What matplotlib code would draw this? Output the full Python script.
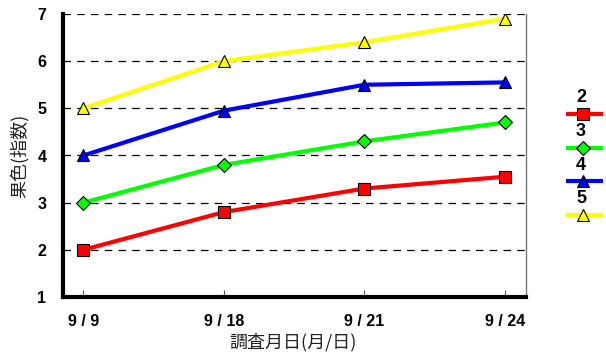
import matplotlib
matplotlib.use("Agg")
import matplotlib.pyplot as plt
from matplotlib.lines import Line2D

# Survey dates and fruit colour index per grade
dates = ["9/9", "9/18", "9/21", "9/24"]
grades = ["2", "3", "4", "5"]
grade2 = [2.0, 2.8, 3.3, 3.55]
grade3 = [3.0, 3.8, 4.3, 4.7]
grade4 = [4.0, 4.95, 5.5, 5.55]
grade5 = [5.0, 6.0, 6.4, 6.9]
yticks = [1, 2, 3, 4, 5, 6, 7]

series = [grade2, grade3, grade4, grade5]
colors = ["#ff0000", "#00ff00", "#0000ff", "#ffff00"]
markers = ["s", "D", "^", "^"]
msizes = [9, 7, 9, 9]

cjk = ["Noto Sans CJK JP", "DejaVu Sans"]
num_font = "Liberation Sans"
narrow_font = ["Liberation Sans Narrow", "Liberation Sans"]

fig = plt.figure(figsize=(6.06, 3.54), dpi=100)
ax = fig.add_axes([63 / 606, 1 - 297 / 354, (526 - 63) / 606, (297 - 14) / 354])

x = list(range(len(dates)))
for vals, c, m, ms in zip(series, colors, markers, msizes):
    ax.plot(x, vals, color=c, lw=3, marker=m, ms=ms, mfc=c, mec="black",
            mew=0.8, zorder=3, solid_capstyle="butt")

ax.set_xlim(-0.145, 3.15)
ax.set_ylim(1, 7)
ax.set_yticks(yticks)
ax.set_yticklabels([str(v) for v in yticks], fontfamily=num_font,
                   fontweight="bold", fontsize=11.5)
ax.set_xticks(x)
ax.set_xticklabels([d.replace("/", " / ") for d in dates], fontfamily=num_font,
                   fontweight="bold", fontsize=11.5)
ax.tick_params(axis="y", length=0, pad=12)
ax.tick_params(axis="x", direction="in", length=5, width=0.8, color="#555555", pad=12)

for v in yticks[1:]:
    ax.axhline(v, color="black", lw=0.9, ls=(0, (6, 5)), zorder=1)

ax.spines["top"].set_visible(False)
ax.spines["left"].set_linewidth(3)
ax.spines["bottom"].set_linewidth(3)
ax.spines["right"].set_linewidth(1)
ax.spines["right"].set_color("#777777")

ax.set_ylabel("果色(指数)", fontfamily=cjk, fontsize=13, color="#222222")
ax.yaxis.label.set_va("center")
ax.yaxis.set_label_coords(-0.094, 0.5)
ax.set_xlabel("調査月日(月/日)", fontfamily=cjk, fontsize=13, color="#222222")
ax.xaxis.set_label_coords(0.497, -0.127)

# Legend: grade number above each line sample
lax = fig.add_axes([560 / 606, 1 - 230 / 354, 46 / 606, 150 / 354])
lax.set_xlim(560, 606)
lax.set_ylim(230, 80)
lax.axis("off")
for i, (g, c, m, ms) in enumerate(zip(grades, colors, markers, msizes)):
    yl = 114 + i * 33.5
    lax.add_line(Line2D([566, 603], [yl, yl], color=c, lw=3, solid_capstyle="butt"))
    lax.add_line(Line2D([583], [yl], marker=m, ms=ms, mfc=c, mec="black", mew=0.8, ls="none"))
    lax.text(581, yl - 16, g, ha="center", va="center", fontfamily=narrow_font,
             fontweight="bold", fontsize=13)

fig.savefig("out.png", dpi=100)
